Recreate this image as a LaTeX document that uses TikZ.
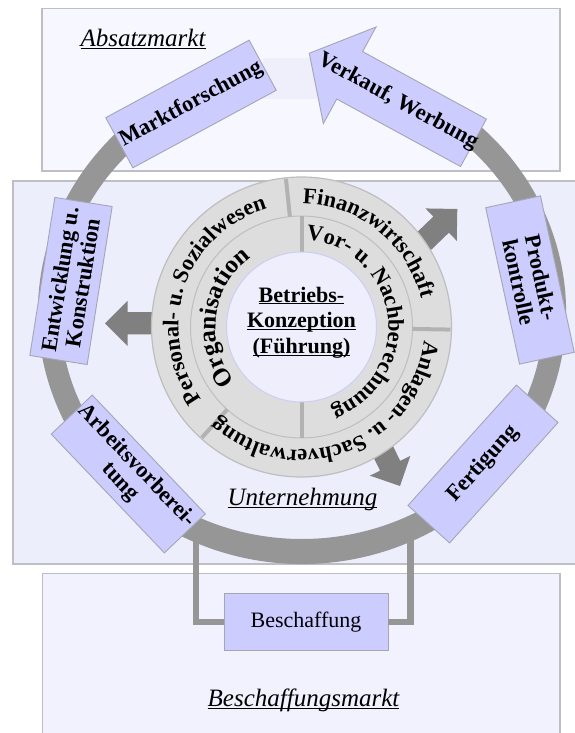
\documentclass[tikz,border=0pt]{standalone}
\usepackage{fontspec}
\setmainfont{Liberation Serif}
\usetikzlibrary{calc,decorations.text}

\definecolor{absatzfill}{RGB}{247,247,255}
\definecolor{untfill}{RGB}{236,238,252}
\definecolor{beschfill}{RGB}{242,242,255}
\definecolor{bandfill}{RGB}{239,239,252}
\definecolor{arealine}{RGB}{190,190,196}
\definecolor{boxfill}{RGB}{204,204,255}
\definecolor{boxline}{RGB}{165,165,180}
\definecolor{ringgray}{RGB}{150,150,150}
\definecolor{arrowgray}{RGB}{128,128,128}
\definecolor{diskfill}{RGB}{221,221,221}
\definecolor{diskline}{RGB}{190,190,190}
\definecolor{divider}{RGB}{178,178,178}
\definecolor{corefill}{RGB}{238,238,252}
\definecolor{coreline}{RGB}{205,205,248}

\newcommand\ringlabelfont{\bfseries\fontsize{22.5bp}{22.5bp}\selectfont}
\newcommand\orgfont{\bfseries\fontsize{25bp}{25bp}\selectfont}
\newcommand\areafont{\itshape\fontsize{25bp}{25bp}\selectfont}
\newcommand\ulabel[1]{\underline{\smash{#1}}}

\begin{document}
\begin{tikzpicture}[x=1bp,y=1bp,
  areaframe/.style={draw=arealine,line width=1.2bp},
  procbox/.style={draw=boxline,fill=boxfill,line width=0.9bp,inner sep=0pt,
    align=center,font=\bfseries\fontsize{22.5bp}{23bp}\selectfont},
  boxtext/.style={inner sep=0pt,align=center,font=\bfseries\fontsize{22.5bp}{23bp}\selectfont},
  conn/.style={draw=ringgray,line width=6.7bp},
  pics/diskarrow/.style={code={
    \fill[arrowgray] (0,0) -- (-22.5,22.5) -- (-22.5,11.2) -- (-#1,11.2)
      -- (-#1,-11.2) -- (-22.5,-11.2) -- (-22.5,-22.5) -- cycle;}},
  ringtext/.style={decorate,decoration={text along path,text align=center,text={#1}}}
]
\useasboundingbox (0,0) rectangle (575,733);

% market and company areas
\draw[areaframe,fill=absatzfill] (42,562) rectangle (560,724.7);
\draw[areaframe,fill=untfill] (13,169) rectangle (590,552);
\draw[areaframe,fill=beschfill] (42.5,-10) rectangle (560,159.3);
\fill[bandfill] (263,634) rectangle (317,675);

\node[anchor=base,inner sep=0pt] (absatz) at (143,686.3) {\areafont\ulabel{Absatzmarkt}};
\node[anchor=base,inner sep=0pt] (unt) at (302.5,227) {\areafont\ulabel{Unternehmung}};
\node[anchor=base,inner sep=0pt] (beschmarkt) at (303.5,26.3) {\areafont\ulabel{Beschaffungsmarkt}};

% the process cycle
\coordinate (rc) at (302,421);
\fill[ringgray] (rc) ++(108:264 and 252)
  arc[start angle=108,end angle=412,x radius=264,y radius=252]
  -- ([shift={(52:242 and 227)}]rc)
  arc[start angle=412,end angle=108,x radius=242,y radius=227] -- cycle;

% procurement loop
\node[draw=boxline,fill=boxfill,line width=0.9bp,minimum width=164bp,minimum height=57bp,
  font=\fontsize{22bp}{22bp}\selectfont] (besch) at (306,111) {Beschaffung};
\coordinate (ringL) at (196,205);
\coordinate (ringR) at (410.7,205);
\draw[conn] (ringL) |- (besch.west);
\draw[conn] (ringR) |- (besch.east);

% arrows leaving the management core
\pic[rotate=180] at (105,409.7) {diskarrow=60};
\pic[rotate=44] at (457.3,524) {diskarrow=65};
\pic[rotate=-64] at (400,247) {diskarrow=60};

% management core
\coordinate (dc) at (301.5,406);
\draw[draw=diskline,fill=diskfill,line width=1.2bp] (dc) circle[radius=150];
\draw[draw=diskline,line width=1bp] (dc) circle[radius=111];
\foreach \a in {96,-1,228}
  \draw[divider,line width=4bp] ([shift={(\a:111)}]dc) -- ([shift={(\a:149)}]dc);
\foreach \a in {90,270}
  \draw[divider,line width=4bp] ([shift={(\a:75)}]dc) -- ([shift={(\a:111)}]dc);
\draw[draw=coreline,fill=corefill,line width=1bp] (dc) circle[radius=75];

\path[ringtext={|\ringlabelfont|Finanzwirtschaft}]
  (dc) ++(111.3:123) arc[start angle=111.3,end angle=-8.7,radius=123];
\path[ringtext={|\ringlabelfont|Personal- u. Sozialwesen}]
  (dc) ++(236:123) arc[start angle=236,end angle=86,radius=123];
\path[ringtext={|\ringlabelfont|Anlagen- u. Sachverwaltung}]
  (dc) ++(5.6:123) arc[start angle=5.6,end angle=-144.4,radius=123];
\path[ringtext={|\orgfont|Organisation}]
  (dc) ++(242.5:86) arc[start angle=242.5,end angle=102.5,radius=86];
\path[ringtext={|\ringlabelfont|Vor- u. Nachberechnung}]
  (dc) ++(83.5:87) arc[start angle=83.5,end angle=-66.5,radius=87];

\node[inner sep=0pt,align=center,font=\bfseries\fontsize{22bp}{25.7bp}\selectfont]
  (core) at (301.5,404) {\ulabel{Betriebs-}\\\ulabel{Konzeption}\\\ulabel{(Führung)}};

% stations of the cycle
\node[procbox,minimum width=163bp,minimum height=57bp,rotate=28.4] (markt) at (191,629) {Marktforschung};
\node[procbox,minimum width=160bp,minimum height=58bp,rotate=81] (entw) at (71,452) {Entwicklung u.\\Konstruktion};
\node[procbox,minimum width=164bp,minimum height=56.6bp,rotate=-46.4] (arbeit) at (128.3,259) {Arbeitsvorberei-\\tung};
\node[procbox,minimum width=162bp,minimum height=56bp,rotate=48] (fert) at (483,269) {Fertigung};
\node[procbox,minimum width=160bp,minimum height=56bp,rotate=-77.8] (prod) at (530,453) {Produkt-\\kontrolle};

% sales arrow closing the cycle
\coordinate (vtip) at (309.3,679.7);
\begin{scope}[shift={(vtip)},rotate=-28.6]
  \draw[draw=boxline,fill=boxfill,line width=0.9bp]
    (0,0) -- (46,55) -- (46,27) -- (187,27) -- (187,-27) -- (46,-27) -- (46,-55) -- cycle;
  \node[boxtext,rotate=-28.6] (verkauf) at (101,0) {Verkauf, Werbung};
\end{scope}
\end{tikzpicture}
\end{document}
